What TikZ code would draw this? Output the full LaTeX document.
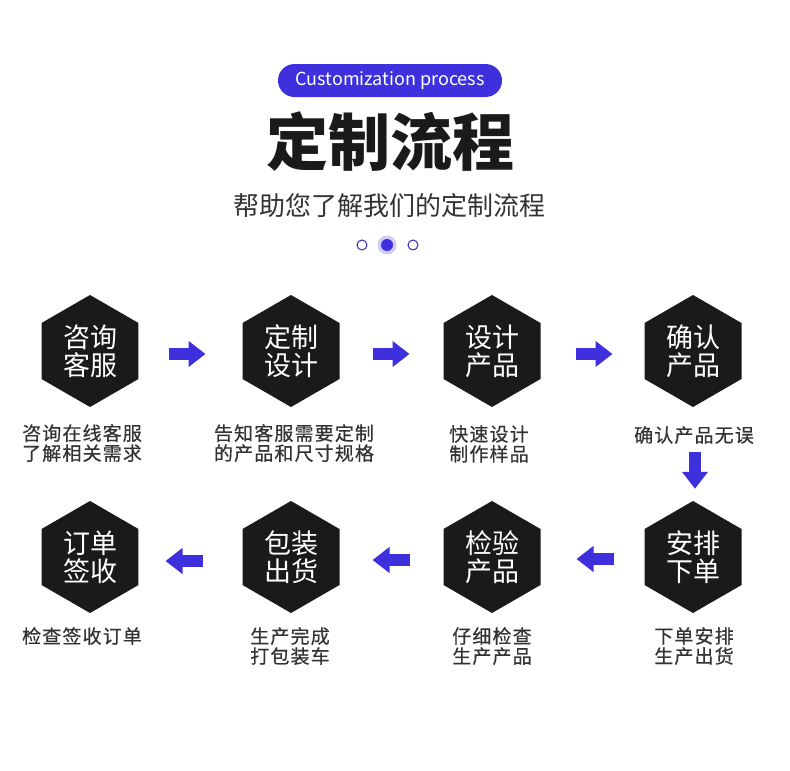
\documentclass[tikz,border=0pt]{standalone}
\usepackage{fontspec}
\setmainfont{Noto Sans CJK SC}
\usetikzlibrary{shapes.geometric,arrows.meta,calc}
\definecolor{brand}{RGB}{62,48,220}
\definecolor{halo}{RGB}{208,204,246}
\definecolor{hexfill}{RGB}{26,26,26}
\definecolor{captxt}{RGB}{51,51,51}
\begin{document}
\begin{tikzpicture}[x=1pt,y=-1pt,
  hexa/.style={regular polygon, regular polygon sides=6, shape border rotate=30,
    minimum size=112pt, inner sep=0pt, fill=hexfill, text=white, align=center,
    font=\fontsize{27}{28}\selectfont},
  captext/.style={anchor=north, align=center, text=captxt, inner sep=0pt,
    font=\fontsize{19}{20}\selectfont\addfontfeatures{LetterSpace=6,FakeBold=0.5}},
  flow/.style={draw=brand, line width=12pt, -{Triangle[width=25pt,length=17pt]}},
  hollowdot/.style={circle, draw=brand!85!black, line width=1pt, fill=white,
    minimum size=10pt, inner sep=0pt},
]
\useasboundingbox[fill=white] (0,0) rectangle (790,771);

% header
\node[fill=brand, rounded corners=16.5pt, minimum width=224pt, minimum height=33pt,
  inner sep=0pt, text=white, font=\fontsize{18}{20}\selectfont] (tag) at (390,80.5) {Customization process};
\node[text=hexfill, font=\fontsize{62}{62}\selectfont\bfseries] (title) at (390,142) {定制流程};
\node[text=captxt, font=\fontsize{26}{26}\selectfont] (sub) at (389,206) {帮助您了解我们的定制流程};
\node[circle, fill=halo, minimum size=19pt, inner sep=0pt] (d2h) at (387,245) {};
\node[circle, fill=brand, minimum size=12pt, inner sep=0pt] (d2) at (387,245) {};
\node[hollowdot] (d1) at (362,245) {};
\node[hollowdot] (d3) at (413,245) {};

% hexagons
\node[hexa] (h1) at (90,351)  {咨询\\客服};
\node[hexa] (h2) at (291,351) {定制\\设计};
\node[hexa] (h3) at (492,351) {设计\\产品};
\node[hexa] (h4) at (693,351) {确认\\产品};
\node[hexa] (h5) at (90,557)  {订单\\签收};
\node[hexa] (h6) at (291,557) {包装\\出货};
\node[hexa] (h7) at (492,557) {检验\\产品};
\node[hexa] (h8) at (693,557) {安排\\下单};

% captions
\node[captext] (c1) at (82,424)  {咨询在线客服\\了解相关需求};
\node[captext] (c2) at (294,424) {告知客服需要定制\\的产品和尺寸规格};
\node[captext] (c3) at (489,425) {快速设计\\制作样品};
\node[captext] (c4) at (694,426) {确认产品无误};
\node[captext] (c5) at (82,627)  {检查签收订单};
\node[captext] (c6) at (290,627) {生产完成\\打包装车};
\node[captext] (c7) at (492,627) {仔细检查\\生产产品};
\node[captext] (c8) at (694,627) {下单安排\\生产出货};

% arrows
\draw[flow] ($(h1)!0.5!(h2)+(-22,3)$) -- ($(h1)!0.5!(h2)+(15,3)$);
\draw[flow] ($(h2)!0.5!(h3)+(-19,3)$) -- ($(h2)!0.5!(h3)+(18,3)$);
\draw[flow] ($(h3)!0.5!(h4)+(-17,3)$) -- ($(h3)!0.5!(h4)+(20,3)$);
\draw[flow] ($(h8.north)+(2,-49)$) -- ($(h8.north)+(2,-12)$);
\draw[flow] ($(h8)!0.5!(h7)+(21,2)$) -- ($(h8)!0.5!(h7)+(-16,2)$);
\draw[flow] ($(h7)!0.5!(h6)+(18,3)$) -- ($(h7)!0.5!(h6)+(-19,3)$);
\draw[flow] ($(h6)!0.5!(h5)+(12,4)$) -- ($(h6)!0.5!(h5)+(-25,4)$);
\end{tikzpicture}
\end{document}
